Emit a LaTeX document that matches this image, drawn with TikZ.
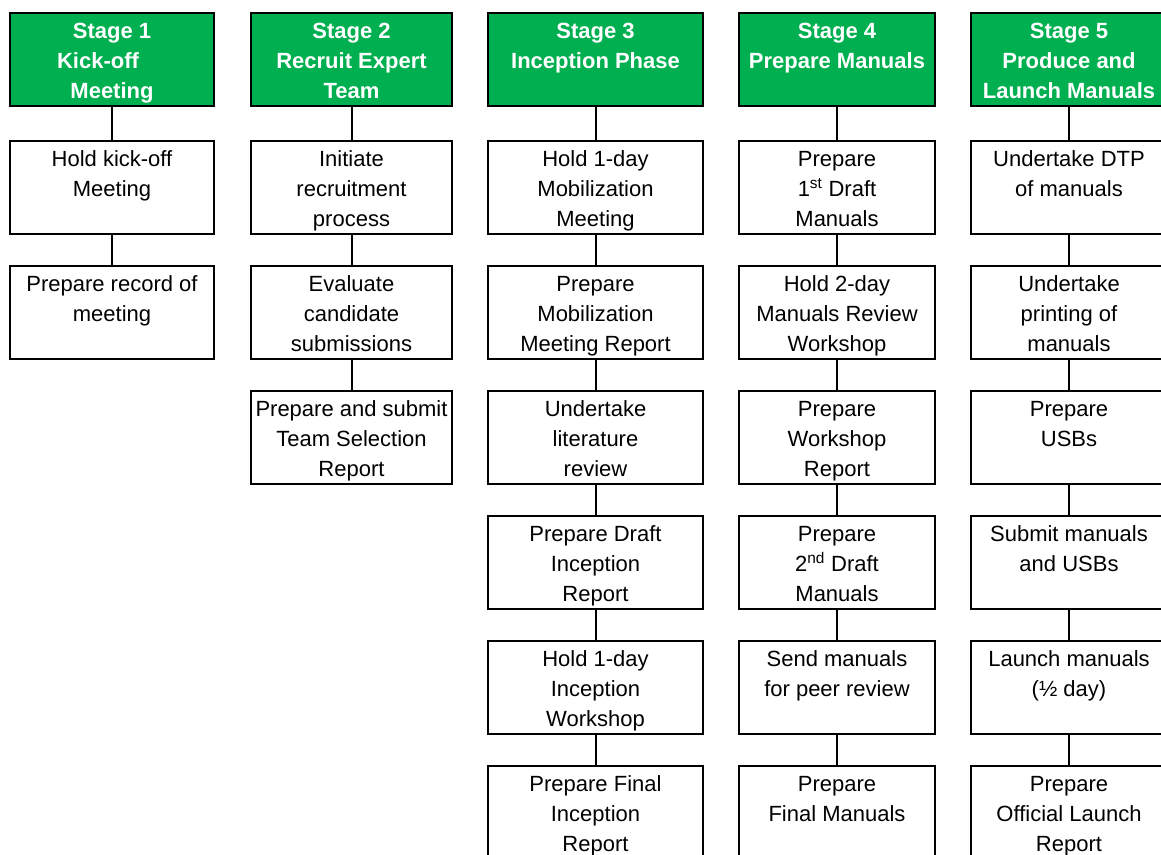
\documentclass[tikz,border=0pt]{standalone}
\usepackage{fontspec}
\setmainfont{Liberation Sans}
\definecolor{stagegreen}{RGB}{0,176,80}
\newcommand{\cellbox}[2]{\parbox[t][93pt][t]{#1pt}{\centering\rule{0pt}{25.5pt}#2}}
\tikzset{
  basebox/.style={draw=black, line width=2pt, inner sep=0pt, outer sep=0pt, anchor=north west},
  stagebox/.style={basebox, fill=stagegreen, text=white, font=\fontsize{22}{30}\selectfont\bfseries},
  taskbox/.style={basebox, fill=white, text=black, font=\fontsize{22}{30}\selectfont},
  link/.style={draw=black, line width=2pt}
}
\begin{document}
\begin{tikzpicture}[x=1pt,y=-1pt]
\useasboundingbox (0,0) rectangle (1161,854);
\clip (0,0) rectangle (1161,854);
\fill[white] (0,0) rectangle (1161,854);
% Stage 1
\node[stagebox] (s1h) at (10,13) {\cellbox{204}{Stage 1\\Kick-off\rule{28pt}{0pt}\\Meeting}};
\node[taskbox] (s1a) at (10,141) {\cellbox{204}{Hold kick-off\\Meeting}};
\node[taskbox] (s1b) at (10,266) {\cellbox{204}{Prepare record of\\meeting}};
% Stage 2
\node[stagebox] (s2h) at (251,13) {\cellbox{201}{Stage 2\\Recruit Expert\\Team}};
\node[taskbox] (s2a) at (251,141) {\cellbox{201}{Initiate\\recruitment\\process}};
\node[taskbox] (s2b) at (251,266) {\cellbox{201}{Evaluate\\candidate\\submissions}};
\node[taskbox] (s2c) at (251,391) {\cellbox{201}{Prepare and submit\\Team Selection\\Report}};
% Stage 3
\node[stagebox] (s3h) at (488,13) {\cellbox{215}{Stage 3\\Inception Phase}};
\node[taskbox] (s3a) at (488,141) {\cellbox{215}{Hold 1-day\\Mobilization\\Meeting}};
\node[taskbox] (s3b) at (488,266) {\cellbox{215}{Prepare\\Mobilization\\Meeting Report}};
\node[taskbox] (s3c) at (488,391) {\cellbox{215}{Undertake\\literature\\review}};
\node[taskbox] (s3d) at (488,516) {\cellbox{215}{Prepare Draft\\Inception\\Report}};
\node[taskbox] (s3e) at (488,641) {\cellbox{215}{Hold 1-day\\Inception\\Workshop}};
\node[taskbox] (s3f) at (488,766) {\cellbox{215}{Prepare Final\\Inception\\Report}};
% Stage 4
\node[stagebox] (s4h) at (739,13) {\cellbox{196}{Stage 4\\Prepare Manuals}};
\node[taskbox] (s4a) at (739,141) {\cellbox{196}{Prepare\\1\textsuperscript{st} Draft\\Manuals}};
\node[taskbox] (s4b) at (739,266) {\cellbox{196}{Hold 2-day\\Manuals Review\\Workshop}};
\node[taskbox] (s4c) at (739,391) {\cellbox{196}{Prepare\\Workshop\\Report}};
\node[taskbox] (s4d) at (739,516) {\cellbox{196}{Prepare\\2\textsuperscript{nd} Draft\\Manuals}};
\node[taskbox] (s4e) at (739,641) {\cellbox{196}{Send manuals\\for peer review}};
\node[taskbox] (s4f) at (739,766) {\cellbox{196}{Prepare\\Final Manuals}};
% Stage 5
\node[stagebox] (s5h) at (971,13) {\cellbox{196}{Stage 5\\Produce and\\Launch Manuals}};
\node[taskbox] (s5a) at (971,141) {\cellbox{196}{Undertake DTP\\of manuals}};
\node[taskbox] (s5b) at (971,266) {\cellbox{196}{Undertake\\printing of\\manuals}};
\node[taskbox] (s5c) at (971,391) {\cellbox{196}{Prepare\\USBs}};
\node[taskbox] (s5d) at (971,516) {\cellbox{196}{Submit manuals\\and USBs}};
\node[taskbox] (s5e) at (971,641) {\cellbox{196}{Launch manuals\\(½ day)}};
\node[taskbox] (s5f) at (971,766) {\cellbox{196}{Prepare\\Official Launch\\Report}};
% connectors
\foreach \a/\b in {s1h/s1a,s1a/s1b,
  s2h/s2a,s2a/s2b,s2b/s2c,
  s3h/s3a,s3a/s3b,s3b/s3c,s3c/s3d,s3d/s3e,s3e/s3f,
  s4h/s4a,s4a/s4b,s4b/s4c,s4c/s4d,s4d/s4e,s4e/s4f,
  s5h/s5a,s5a/s5b,s5b/s5c,s5c/s5d,s5d/s5e,s5e/s5f}
  \draw[link] (\a.south) -- (\b.north);
\end{tikzpicture}
\end{document}
